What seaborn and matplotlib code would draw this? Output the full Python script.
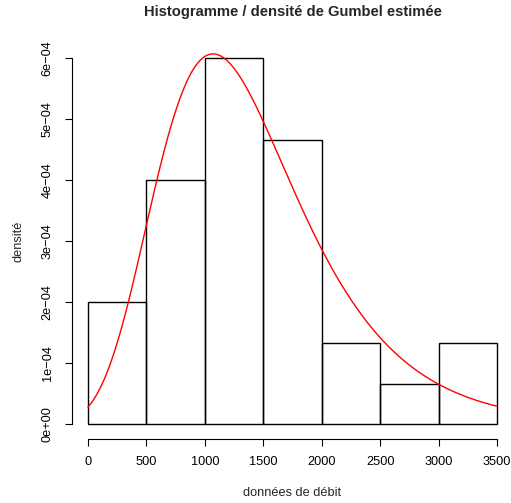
import numpy as np
import pandas as pd
import matplotlib
matplotlib.use("Agg")
import matplotlib.pyplot as plt
import seaborn as sns
from matplotlib.ticker import FixedLocator

# Données
bin_edges = [0, 500, 1000, 1500, 2000, 2500, 3000, 3500]
bin_counts = [3, 6, 9, 7, 2, 1, 2]
# Paramètres estimés de la loi de Gumbel (position, échelle)
gumbel_mu = 1070.0
gumbel_beta = 606.0
x_ticks = [0, 500, 1000, 1500, 2000, 2500, 3000, 3500]
y_ticks = [0, 1e-4, 2e-4, 3e-4, 4e-4, 5e-4, 6e-4]
y_tick_labels = ["0e+00", "1e\u221204", "2e\u221204", "3e\u221204", "4e\u221204", "5e\u221204", "6e\u221204"]

sns.set_style("white")
plt.rcParams["font.family"] = ["Liberation Sans", "DejaVu Sans"]

mids = [(a + b) / 2 for a, b in zip(bin_edges[:-1], bin_edges[1:])]
df = pd.DataFrame({"debit": mids, "n": bin_counts})

fig = plt.figure(figsize=(5.11, 5.03), dpi=100)
ax = fig.add_axes([71.6 / 511, 64 / 503, 441.8 / 511, 400 / 503])

sns.histplot(data=df, x="debit", weights="n", bins=bin_edges, stat="density",
             fill=False, color="black", edgecolor="black", linewidth=1.0, ax=ax)

# densité de Gumbel estimée
xs = np.linspace(bin_edges[0], bin_edges[-1], 400)
z = (xs - gumbel_mu) / gumbel_beta
dens = np.exp(-(z + np.exp(-z))) / gumbel_beta
sns.lineplot(x=xs, y=dens, color="red", linewidth=1.0, ax=ax)

ax.set_xlim(-140, 3640)
ax.set_ylim(-0.2428e-4, 6.3143e-4)

ax.xaxis.set_major_locator(FixedLocator(x_ticks))
ax.yaxis.set_major_locator(FixedLocator(y_ticks))
ax.set_yticklabels(y_tick_labels, rotation=90, va="center")
ax.tick_params(axis="both", direction="out", length=5, width=0.8, labelsize=9.2,
               colors="black", bottom=True, left=True)
ax.tick_params(axis="x", pad=7)
ax.tick_params(axis="y", pad=8)

for s in ["top", "right"]:
    ax.spines[s].set_visible(False)
ax.spines["bottom"].set_bounds(0, 3500)
ax.spines["left"].set_bounds(0, 6e-4)
for s in ["bottom", "left"]:
    ax.spines[s].set_color("black")
    ax.spines[s].set_linewidth(0.8)

ax.set_xlabel("")
ax.set_ylabel("")
fig.text(292.5 / 511, 1 - 493 / 503, "données de débit", ha="center", va="center", fontsize=9.2)
fig.text(18 / 511, 1 - 241 / 503, "densité", ha="center", va="center", rotation=90, fontsize=9.2)
fig.text(292.5 / 511, 1 - 12 / 503, "Histogramme / densité de Gumbel estimée",
         ha="center", va="center", fontsize=10.65, fontweight="bold")

fig.savefig("out.png", dpi=100)
